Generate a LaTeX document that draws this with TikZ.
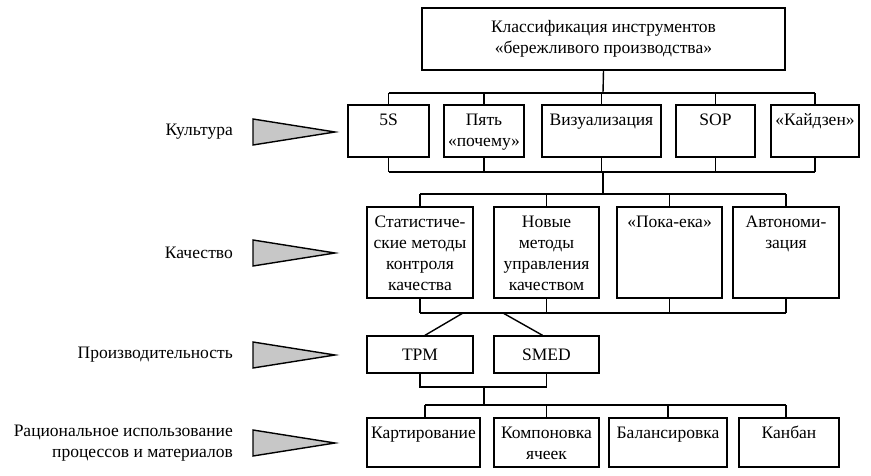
\documentclass[tikz,border=0pt]{standalone}
\usepackage{fontspec}
\setmainfont{Liberation Serif}
\tikzset{
  cell/.style={draw, line width=1.4pt, inner sep=0pt},
  wire/.style={line width=1.4pt},
  flag/.style={draw, line width=1.4pt, fill=black!22, line join=miter},
  level/.style={anchor=east, align=right, inner sep=0pt},
}
% text in a box, set from its top edge
\newcommand{\celltext}[3]{\parbox[c][#2pt][t]{#1pt}{\centering\vspace*{6pt}\strut#3}}

\begin{document}
\begin{tikzpicture}[x=1pt, y=-1pt, font=\fontsize{17.5}{21}\selectfont]
    \useasboundingbox (0,0) rectangle (871,476);

    \node[cell, minimum width=363pt, minimum height=62pt, align=center] (root) at (603.5,39) {Классификация инструментов\\«бережливого производства»};

    % culture
    \node[cell] (s5) at (388.5,131) {\celltext{81}{52}{5S}};
    \node[cell] (why) at (484,131) {\celltext{80}{52}{Пять\\«почему»}};
    \node[cell] (viz) at (601.5,131) {\celltext{119}{52}{Визуализация}};
    \node[cell] (sop) at (715.5,131) {\celltext{79}{52}{SOP}};
    \node[cell] (kai) at (815,131) {\celltext{88}{52}{«Кайдзен»}};

    % quality
    \node[cell] (stat) at (420,252.5) {\celltext{106}{91}{Статистиче-\\ские методы\\контроля\\качества}};
    \node[cell] (newq) at (546.5,252.5) {\celltext{105}{91}{Новые\\методы\\управления\\качеством}};
    \node[cell] (poka) at (669.5,252.5) {\celltext{105}{91}{«Пока-ека»}};
    \node[cell] (auto) at (786,252.5) {\celltext{106}{91}{Автономи-\\зация}};

    % productivity
    \node[cell, minimum width=106pt, minimum height=37pt] (tpm) at (420,354.5) {TPM};
    \node[cell, minimum width=105pt, minimum height=37pt] (smed) at (546.5,354.5) {SMED};

    % processes and materials
    \node[cell] (map) at (423.5,442.5) {\celltext{113}{49}{Картирование}};
    \node[cell] (lay) at (546.5,442.5) {\celltext{105}{49}{Компоновка\\ячеек}};
    \node[cell] (bal) at (668,442.5) {\celltext{118}{49}{Балансировка}};
    \node[cell] (kan) at (789,442.5) {\celltext{100}{49}{Канбан}};

    % buses
    \coordinate (r0) at (603,93);
    \coordinate (r1) at (603,172);
    \coordinate (r2) at (603,194);
    \coordinate (r3) at (603,313);
    \coordinate (t1) at (463,313);
    \coordinate (t2) at (503,313);
    \coordinate (r4) at (484,387);
    \coordinate (r5) at (484,405);

    \draw[wire] (root.south) -- (r0);
    \draw[wire] (s5 |- r0) -- (kai |- r0);
    \draw[wire] (s5 |- r1) -- (kai |- r1);
    \foreach \n in {s5,why,viz,sop,kai} {
        \draw[wire] (\n.north) -- (\n |- r0);
        \draw[wire] (\n.south) -- (\n |- r1);
    }
    \draw[wire] (r1) -- (r2);
    \draw[wire] (stat |- r2) -- (auto |- r2);
    \draw[wire] (stat |- r3) -- (auto |- r3);
    \foreach \n in {stat,newq,poka,auto} {
        \draw[wire] (\n.north) -- (\n |- r2);
        \draw[wire] (\n.south) -- (\n |- r3);
    }
    \draw[wire] (t1) -- ([xshift=5pt]tpm.north);
    \draw[wire] (t2) -- ([xshift=-4pt]smed.north);
    \draw[wire] (tpm.south) -- (tpm |- r4) -- (smed |- r4) -- (smed.south);
    \draw[wire] (r4) -- (r5);
    \draw[wire] ([xshift=1.5pt]map.north |- r5) -- ([xshift=-3pt]kan.north |- r5);
    \draw[wire] ([xshift=1.5pt]map.north) -- ([xshift=1.5pt]map.north |- r5);
    \draw[wire] (lay.north) -- (lay |- r5);
    \draw[wire] (bal.north) -- (bal |- r5);
    \draw[wire] ([xshift=-3pt]kan.north) -- ([xshift=-3pt]kan.north |- r5);

    % levels
    \node[level] (l1) at (233,132) {Культура};
    \node[level] (l2) at (233,253) {Качество};
    \node[level] (l3) at (233,355) {Производительность};
    \node[level] (l4) at (233,443) {Рациональное использование\\процессов и материалов};
    \draw[flag] (253,119) -- (253,145) -- (335,132) -- cycle;
    \draw[flag] (253,240) -- (253,266) -- (335,253) -- cycle;
    \draw[flag] (253,342) -- (253,368) -- (335,355) -- cycle;
    \draw[flag] (253,430) -- (253,456) -- (335,443) -- cycle;
\end{tikzpicture}
\end{document}
